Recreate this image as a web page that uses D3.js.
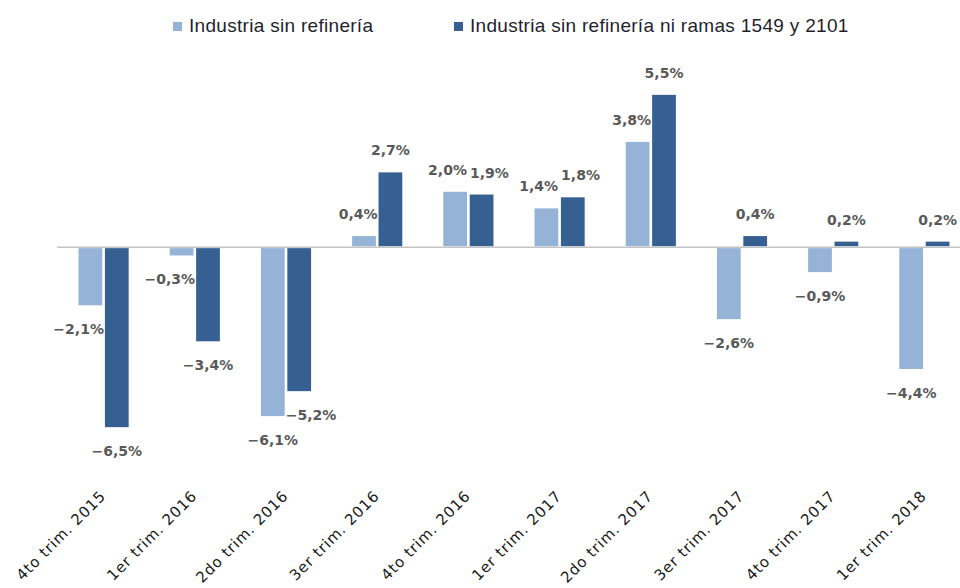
<!DOCTYPE html>
<html>
<head>
<meta charset="utf-8">
<script src="https://cdn.jsdelivr.net/npm/d3@7"></script>
<style>
  body { margin: 0; background: #fff; }
  svg { display: block; }
</style>
</head>
<body>
<svg id="chart"></svg>
<script>
// categories and values
const categories = ['4to trim. 2015', '1er trim. 2016', '2do trim. 2016', '3er trim. 2016', '4to trim. 2016',
  '1er trim. 2017', '2do trim. 2017', '3er trim. 2017', '4to trim. 2017', '1er trim. 2018'];
const seriesNames = ['Industria sin refinería', 'Industria sin refinería ni ramas 1549 y 2101'];
const sinRefineria = [-2.1, -0.3, -6.1, 0.4, 2.0, 1.4, 3.8, -2.6, -0.9, -4.4];
const sinRefineriaNiRamas = [-6.5, -3.4, -5.2, 2.7, 1.9, 1.8, 5.5, 0.4, 0.2, 0.2];
const seriesColors = ['#95B3D7', '#376092'];

const width = 960, height = 588;

const svg = d3.select('#chart')
    .attr('width', width)
    .attr('height', height);

const data = categories.map((c, i) => ({
  cat: c,
  values: [
    { key: seriesNames[0], idx: 0, value: sinRefineria[i] },
    { key: seriesNames[1], idx: 1, value: sinRefineriaNiRamas[i] }
  ]
}));

// scales
const x0 = d3.scaleBand()
    .domain(categories)
    .range([58, 970])
    .paddingInner(0.45)
    .paddingOuter(0.225);

const x1 = d3.scaleBand()
    .domain(seriesNames)
    .range([0, x0.bandwidth()])
    .paddingInner(0.1);

const y = d3.scaleLinear()
    .domain([-7, 6])
    .range([441, 81]);

// zero line
svg.append('line')
    .attr('x1', 57)
    .attr('x2', width)
    .attr('y1', y(0))
    .attr('y2', y(0))
    .attr('stroke', '#c4c4c4')
    .attr('stroke-width', 1.5);

// bars
const groups = svg.selectAll('.cat')
    .data(data)
    .join('g')
    .attr('class', 'cat')
    .attr('transform', d => `translate(${x0(d.cat)},0)`);

groups.selectAll('rect')
    .data(d => d.values)
    .join('rect')
    .attr('x', d => x1(d.key))
    .attr('width', x1.bandwidth())
    .attr('y', d => d.value >= 0 ? y(d.value) : y(0) + 1)
    .attr('height', d => d.value >= 0 ? y(0) - 1 - y(d.value) : y(d.value) - y(0) - 1)
    .attr('fill', d => seriesColors[d.idx]);

// data labels
const fmt = v => (v < 0 ? '\u2212' : '') + Math.abs(v).toFixed(1).replace('.', ',') + '%';

groups.each(function (d) {
  const g = d3.select(this);
  const items = d.values.map(v => {
    const bx = x1(v.key);
    const bw = x1.bandwidth();
    const base = v.value >= 0 ? y(v.value) - 17 : y(v.value) + 29;
    const t = g.append('text')
        .attr('class', 'lbl')
        .attr('text-anchor', 'middle')
        .attr('y', base)
        .style('font-family', '"DejaVu Sans", sans-serif')
        .style('font-weight', 'bold')
        .style('font-size', '14px')
        .attr('fill', '#595959')
        .text(fmt(v.value));
    const w = t.node().getComputedTextLength();
    return {
      t, w, cx: bx + bw / 2, top: base - 11, bot: base + 2,
      bar: { x: bx, r: bx + bw, top: Math.min(y(0), y(v.value)), bot: Math.max(y(0), y(v.value)) }
    };
  });
  const [L, D] = items;
  const vOver = (a, b) => a.top < b.bot && a.bot > b.top;
  // keep labels off the neighbouring bar
  if (vOver(L, D.bar) && L.cx + L.w / 2 > D.bar.x - 1) L.cx = D.bar.x - 1 - L.w / 2;
  if (vOver(D, L.bar) && D.cx - D.w / 2 < L.bar.r + 1) D.cx = L.bar.r + 1 + D.w / 2;
  // spread labels that hit each other
  if (vOver(L, D)) {
    const ov = (L.cx + L.w / 2) - (D.cx - D.w / 2) + 3;
    if (ov > 0) { L.cx -= ov / 2; D.cx += ov / 2; }
  }
  items.forEach(it => it.t.attr('x', it.cx));
});

// x axis, rotated labels
const xAxis = d3.axisBottom(x0).tickSize(0).tickPadding(0);
const xAxisG = svg.append('g')
    .attr('transform', 'translate(0,497)')
    .call(xAxis);
xAxisG.select('.domain').remove();
xAxisG.selectAll('text')
    .attr('x', 0)
    .attr('y', 0)
    .attr('dy', null)
    .attr('text-anchor', 'end')
    .attr('transform', 'translate(3,0) rotate(-45)')
    .style('font-family', '"DejaVu Sans", sans-serif')
    .style('font-size', '15px')
    .style('letter-spacing', '0.8px')
    .attr('fill', '#1a1a1a');

// legend
const legendX = [173, 454];
const legend = svg.append('g');
seriesNames.forEach((s, i) => {
  legend.append('rect')
      .attr('x', legendX[i])
      .attr('y', 22)
      .attr('width', 9)
      .attr('height', 9)
      .attr('fill', seriesColors[i]);
  legend.append('text')
      .attr('x', legendX[i] + 16)
      .attr('y', 32)
      .style('font-family', '"Liberation Sans", sans-serif')
      .style('font-size', '19px')
      .style('letter-spacing', '0.3px')
      .attr('fill', '#1f1f2e')
      .text(s);
});
</script>
</body>
</html>
